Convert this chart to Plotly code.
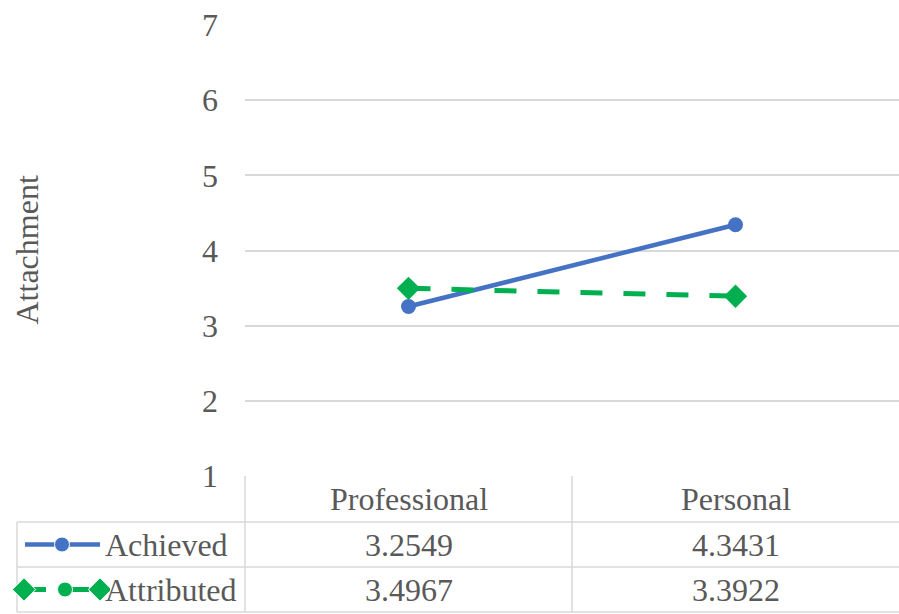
import plotly.graph_objects as go

categories = ["Professional", "Personal"]
series_names = ["Achieved", "Attributed"]
achieved = [3.2549, 4.3431]
attributed = [3.4967, 3.3922]
y_ticks = [1, 2, 3, 4, 5, 6, 7]
y_title = "Attachment"

W, H = 899, 614
FONT = "Liberation Serif"
TXT = "#595959"
GRID = "#D9D9D9"
BLUE = "#4472C4"
GREEN = "#00B050"
FS = 32

# layout in pixels
PL, PR, PT, PB = 245, 899, 25, 476
ROW1, ROW2, ROW3 = 522, 567, 612
TL = 17
XMID = (PL + PR) / 2
KEY_R = 110  # right edge of legend-key sub area

def px_x(x):
    return x / W

def px_y(y):
    return 1 - y / H

fig = go.Figure()

series = [achieved, attributed]
styles = [
    dict(color=BLUE, width=4.5, dash="solid", symbol="circle", msize=15),
    dict(color=GREEN, width=5, dash="22px,21px", symbol="diamond", msize=18),
]
for name, vals, st in zip(series_names, series, styles):
    fig.add_trace(go.Scatter(
        x=categories, y=vals, name=name, mode="lines+markers",
        line=dict(color=st["color"], width=st["width"], dash=st["dash"]),
        marker=dict(symbol=st["symbol"], size=st["msize"], color=st["color"]),
        showlegend=False, xaxis="x", yaxis="y",
    ))

# legend keys in table (pixel-scaled helper axis over the key area only)
row_centers = [(ROW1 + ROW2) / 2, (ROW2 + ROW3) / 2]
fig.add_trace(go.Scatter(
    x=[25, 62, 100], y=[row_centers[0]] * 3, mode="lines+markers",
    line=dict(color=BLUE, width=4.5),
    marker=dict(symbol="circle", size=[0, 15, 0], color=BLUE, opacity=1),
    showlegend=False, xaxis="x2", yaxis="y2", hoverinfo="skip",
))
fig.add_trace(go.Scatter(
    x=[24, 65, 100], y=[row_centers[1]] * 3, mode="lines+markers",
    line=dict(color=GREEN, width=5, dash="22px,21px"),
    marker=dict(symbol=["diamond", "circle", "diamond"], size=[18, 15, 18], color=GREEN,
                opacity=1),
    showlegend=False, xaxis="x2", yaxis="y2", hoverinfo="skip",
))

shapes = []
def hline(y, x0, x1):
    shapes.append(dict(type="line", xref="paper", yref="paper", x0=px_x(x0), x1=px_x(x1),
                       y0=px_y(y), y1=px_y(y), line=dict(color=GRID, width=1.5), layer="below"))
def vline(x, y0, y1):
    shapes.append(dict(type="line", xref="paper", yref="paper", x0=px_x(x), x1=px_x(x),
                       y0=px_y(y0), y1=px_y(y1), line=dict(color=GRID, width=1.5), layer="below"))

hline(ROW1, TL, PR)
hline(ROW2, TL, PR)
hline(ROW3, TL, PR)
vline(TL, ROW1, ROW3)
vline(PL, PB, ROW3)
vline(XMID, PB, ROW3)

annotations = []
font = dict(family=FONT, size=FS, color=TXT)
def ann(x, y, text, xanchor="center", angle=0):
    annotations.append(dict(x=px_x(x), y=px_y(y), xref="paper", yref="paper", text=text,
                            xanchor=xanchor, yanchor="middle", textangle=angle,
                            showarrow=False, font=font))

col_centers = [PL + (PR - PL) * 0.25, PL + (PR - PL) * 0.75]
for c, cx in zip(categories, col_centers):
    ann(cx, (PB + ROW1) / 2, c)
for vals, cy in zip(series, row_centers):
    for v, cx in zip(vals, col_centers):
        ann(cx, cy, f"{v:.4f}")
for name, cy in zip(series_names, row_centers):
    ann(103, cy, name, xanchor="left")
ann(26, (PT + PB) / 2, y_title, angle=-90)

fig.update_layout(
    width=W, height=H, margin=dict(l=0, r=0, t=0, b=0, autoexpand=False),
    paper_bgcolor="white", plot_bgcolor="rgba(0,0,0,0)",
    xaxis=dict(domain=[px_x(PL), px_x(PR)], range=[-0.5, 1.5], type="category",
               showticklabels=False, showgrid=False, zeroline=False, showline=False,
               fixedrange=True),
    yaxis=dict(domain=[px_y(PB), px_y(PT)], range=[1, 7], tickvals=y_ticks,
               showgrid=True, gridcolor=GRID, gridwidth=1.5, zeroline=False,
               showline=False, ticks="", ticklabelstandoff=26, fixedrange=True,
               tickfont=font),
    xaxis2=dict(domain=[0, px_x(KEY_R)], range=[0, KEY_R], visible=False, anchor="y2",
                fixedrange=True),
    yaxis2=dict(domain=[px_y(ROW3), px_y(ROW1)], range=[ROW3, ROW1], visible=False,
                anchor="x2", fixedrange=True),
    shapes=shapes, annotations=annotations,
)

fig.write_html("out.html")
